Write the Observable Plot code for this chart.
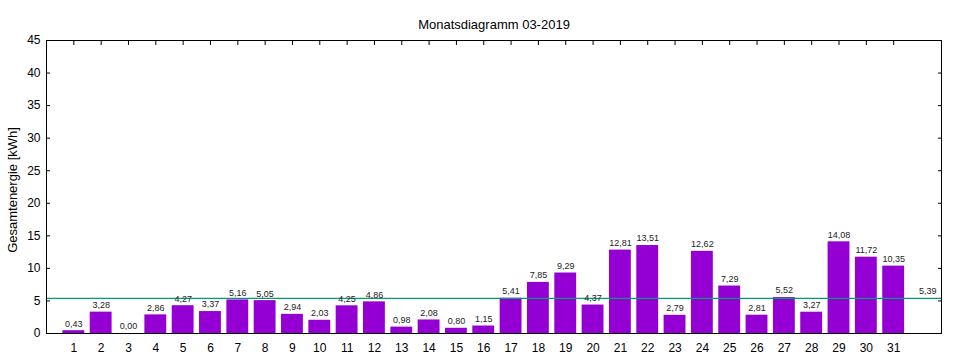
<!DOCTYPE html>
<html>
<head>
<meta charset="utf-8">
<script src="https://cdn.jsdelivr.net/npm/d3@7"></script>
<script src="https://cdn.jsdelivr.net/npm/@observablehq/plot@0.6"></script>
<style>
  html, body { margin: 0; padding: 0; background: #fff; }
  svg { display: block; }
</style>
</head>
<body>
<div id="chart"></div>
<script>
const days = d3.range(1, 32);
const energy = [0.43, 3.28, 0.00, 2.86, 4.27, 3.37, 5.16, 5.05, 2.94, 2.03,
                4.25, 4.86, 0.98, 2.08, 0.80, 1.15, 5.41, 7.85, 9.29, 4.37,
                12.81, 13.51, 2.79, 12.62, 7.29, 2.81, 5.52, 3.27, 14.08, 11.72, 10.35];
const average = 5.39;
const yTicks = [0, 5, 10, 15, 20, 25, 30, 35, 40, 45];
const title = "Monatsdiagramm 03-2019";
const yLabel = "Gesamtenergie [kWh]";

const data = days.map((d, i) => ({day: d, value: energy[i]}));
const fmt = v => v.toFixed(2).replace(".", ",");
const font = "'Liberation Sans', Arial, sans-serif";

const chart = Plot.plot({
  width: 960,
  height: 360,
  marginLeft: 46,
  marginRight: 19,
  marginTop: 40,
  marginBottom: 27,
  style: {fontFamily: font, fontSize: "12px", color: "#000", background: "#fff"},
  x: {type: "linear", domain: [0, 32.75]},
  y: {domain: [0, 45]},
  marks: [
    Plot.rectY(data, {x1: d => d.day - 0.4, x2: d => d.day + 0.4, y1: 0, y2: "value", fill: "#9400d3"}),
    Plot.ruleY([average], {stroke: "#009e73", strokeWidth: 1.2}),
    Plot.text(data, {x: "day", y: "value", text: d => fmt(d.value), dy: -7, fontSize: 9, fill: "#222"}),
    Plot.text([average], {x: () => 32.25, y: d => d, text: d => fmt(d), dy: -7, fontSize: 9, fill: "#222"}),
    Plot.axisX(days, {anchor: "bottom", tickSize: 0, tickPadding: 10, fontSize: 12, label: null}),
    Plot.axisX(days, {anchor: "top", tickSize: -4, tickFormat: () => "", label: null}),
    Plot.axisY(yTicks, {anchor: "left", tickSize: -4, tickPadding: 10, fontSize: 12, label: null}),
    Plot.axisY(yTicks, {anchor: "right", tickSize: -4, tickFormat: () => "", label: null}),
    Plot.frame({stroke: "#000", strokeWidth: 1}),
    Plot.text([title], {frameAnchor: "top", dy: -21, fontSize: 13, fill: "#000"}),
    Plot.text([yLabel], {frameAnchor: "left", textAnchor: "middle", dx: -34, dy: 3, rotate: -90, fontSize: 13, fill: "#000"})
  ]
});
document.getElementById("chart").appendChild(chart);
</script>
</body>
</html>
